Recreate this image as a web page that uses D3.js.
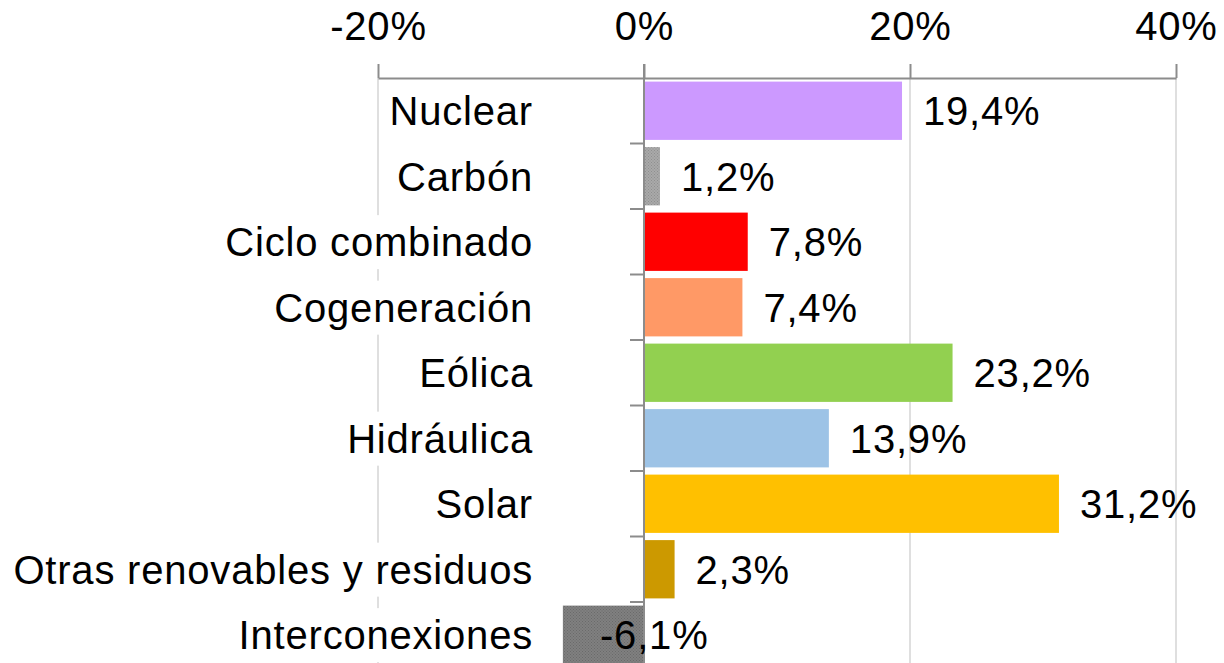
<!DOCTYPE html>
<html>
<head>
<meta charset="utf-8">
<script src="https://cdn.jsdelivr.net/npm/d3@7"></script>
<style>
  body { margin: 0; background: #fff; }
  text { font-family: "Liberation Sans", Arial, sans-serif; fill: #000; letter-spacing: 0.8px; }
</style>
</head>
<body>
<div id="chart"></div>
<script>
// data
var categories = ['Nuclear', 'Carbón', 'Ciclo combinado', 'Cogeneración', 'Eólica',
                  'Hidráulica', 'Solar', 'Otras renovables y residuos', 'Interconexiones'];
var values = [19.4, 1.2, 7.8, 7.4, 23.2, 13.9, 31.2, 2.3, -6.1];
var colors = ['#cc99ff', 'url(#dotsLight)', '#ff0000', '#ff9966', '#92d050',
              '#9dc3e6', '#ffc000', '#cc9900', 'url(#dotsDark)'];
var tickValues = [-20, 0, 20, 40];

var width = 1224, height = 663;

var svg = d3.select('#chart')
    .append('svg')
    .attr('width', width)
    .attr('height', height);

// dotted fills for the grey bars
var defs = svg.append('defs');
function dotPattern(id, base, dot) {
    var p = defs.append('pattern')
        .attr('id', id)
        .attr('width', 3).attr('height', 3)
        .attr('patternUnits', 'userSpaceOnUse');
    p.append('rect').attr('width', 3).attr('height', 3).attr('fill', base);
    p.append('rect').attr('width', 1).attr('height', 1).attr('fill', dot);
    p.append('rect').attr('x', 1.5).attr('y', 1.5).attr('width', 1).attr('height', 1).attr('fill', dot);
}
dotPattern('dotsLight', '#a9a9a9', '#8f8f8f');
dotPattern('dotsDark', '#808080', '#6a6a6a');

// scales
var x = d3.scaleLinear().domain([-20, 40]).range([378, 1176]);
var y = d3.scaleBand()
    .domain(categories)
    .range([78, 667.5])
    .paddingInner(0.11)
    .paddingOuter(0.055);

// gridlines
svg.append('g')
    .selectAll('line')
    .data(tickValues.filter(function(d){ return d !== 0; }))
    .enter()
    .append('line')
    .attr('x1', function(d){ return x(d); })
    .attr('x2', function(d){ return x(d); })
    .attr('y1', 78)
    .attr('y2', height)
    .attr('stroke', '#d4d4d4')
    .attr('stroke-width', 1.5);

// top axis
var x_axis = d3.axisTop(x)
    .tickValues(tickValues)
    .tickSize(14)
    .tickSizeOuter(0)
    .tickPadding(24)
    .tickFormat(function(d){ return d + '%'; });

var axisG = svg.append('g')
    .attr('transform', 'translate(0,78)')
    .call(x_axis);
axisG.select('.domain').attr('stroke', '#8c8c8c').attr('stroke-width', 2);
axisG.selectAll('.tick line').attr('stroke', '#8c8c8c').attr('stroke-width', 2);
axisG.selectAll('.tick text')
    .attr('font-size', 40)
    .attr('font-family', '"Liberation Sans", Arial, sans-serif')
    .attr('fill', '#000');

// category labels with white boxes (they hide the gridline)
var labelG = svg.append('g');
labelG.selectAll('text')
    .data(categories)
    .enter()
    .append('text')
    .attr('x', 533)
    .attr('y', function(d){ return y(d) + y.bandwidth() / 2; })
    .attr('dy', '0.36em')
    .attr('text-anchor', 'end')
    .attr('font-size', 40)
    .text(function(d){ return d; })
    .each(function(){
        var b = this.getBBox();
        labelG.insert('rect', 'text')
            .attr('x', b.x - 2)
            .attr('y', b.y + b.height / 2 - 27)
            .attr('width', b.width + 4)
            .attr('height', 54)
            .attr('fill', '#fff');
    });

// bars
svg.append('g')
    .selectAll('rect')
    .data(values)
    .enter()
    .append('rect')
    .attr('x', function(d){ return x(Math.min(0, d)); })
    .attr('y', function(d, i){ return y(categories[i]); })
    .attr('width', function(d){ return Math.abs(x(d) - x(0)); })
    .attr('height', y.bandwidth())
    .attr('fill', function(d, i){ return colors[i]; });

// category axis at 0
svg.append('line')
    .attr('x1', x(0)).attr('x2', x(0))
    .attr('y1', 64).attr('y2', height)
    .attr('stroke', '#8c8c8c')
    .attr('stroke-width', 2);

svg.append('g')
    .selectAll('line')
    .data(d3.range(1, categories.length))
    .enter()
    .append('line')
    .attr('x1', x(0) - 14).attr('x2', x(0))
    .attr('y1', function(i){ return y.range()[0] + i * y.step(); })
    .attr('y2', function(i){ return y.range()[0] + i * y.step(); })
    .attr('stroke', '#8c8c8c')
    .attr('stroke-width', 2);

// value labels
svg.append('g')
    .selectAll('text')
    .data(values)
    .enter()
    .append('text')
    .attr('x', function(d){ return d >= 0 ? x(d) + 21 : x(0) - 44; })
    .attr('y', function(d, i){ return y(categories[i]) + y.bandwidth() / 2; })
    .attr('dy', '0.36em')
    .attr('text-anchor', 'start')
    .attr('font-size', 40)
    .text(function(d){ return d.toFixed(1).replace('.', ',') + '%'; });
</script>
</body>
</html>
